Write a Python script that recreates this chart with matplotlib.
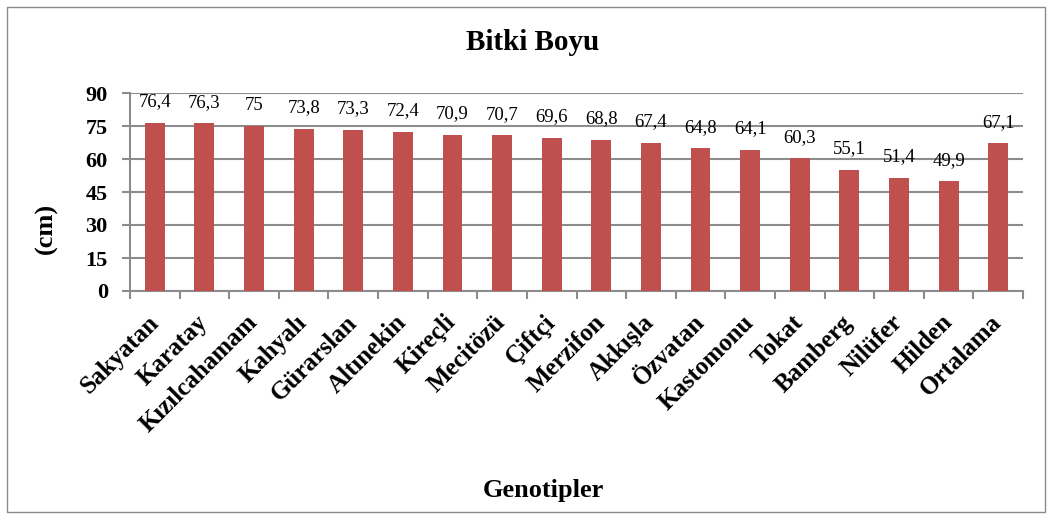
import matplotlib
matplotlib.use("Agg")
import matplotlib.pyplot as plt
from matplotlib.patches import Rectangle
import numpy as np

categories = ["Sakyatan", "Karatay", "Kızılcahamam", "Kahyalı", "Gürarslan", "Altınekin",
              "Kireçli", "Mecitözü", "Çiftçi", "Merzifon", "Akkışla", "Özvatan",
              "Kastomonu", "Tokat", "Bamberg", "Nilüfer", "Hilden", "Ortalama"]
values = [76.4, 76.3, 75, 73.8, 73.3, 72.4, 70.9, 70.7, 69.6, 68.8, 67.4, 64.8,
          64.1, 60.3, 55.1, 51.4, 49.9, 67.1]
yticks = [0, 15, 30, 45, 60, 75, 90]

plt.rcParams['font.family'] = ['Liberation Serif', 'DejaVu Serif']

fig = plt.figure(figsize=(10.52, 5.19), dpi=100)
ax = fig.add_axes([130/1052, 1-291/519, (1023-130)/1052, (291-93)/519])

x = np.arange(len(categories))
ax.bar(x, values, width=0.4, color='#C0504D', zorder=3)
ax.set_xlim(-0.5, len(categories)-0.5)
ax.set_ylim(0, 90)
ax.set_yticks(yticks)
ax.set_yticklabels([str(t) for t in yticks], fontsize=16, fontweight='bold')
ax.yaxis.grid(True, color='#8C8C8C', linewidth=1.5, zorder=0)
ax.tick_params(axis='y', length=6, width=1.5, color='#8C8C8C', pad=10)

ax.set_xticks(np.arange(len(categories)+1)-0.5)
ax.set_xticklabels([])
ax.tick_params(axis='x', which='major', length=6, width=1.5, color='#8C8C8C')
ax.set_xticks(x, minor=True)
ax.set_xticklabels(categories, minor=True, rotation=45, ha='right', va='center',
                   rotation_mode='anchor', fontsize=18, fontweight='bold')
ax.tick_params(axis='x', which='minor', length=0, pad=20)

for s in ['top', 'right']:
    ax.spines[s].set_visible(False)
for s in ['left', 'bottom']:
    ax.spines[s].set_color('#8C8C8C')
    ax.spines[s].set_linewidth(1.5)

for xi, v in zip(x, values):
    ax.annotate(f"{v:g}".replace('.', ','), (xi, v), xytext=(0, 9), textcoords='offset points',
                ha='center', va='bottom', fontsize=13.5, zorder=4)

fig.text(533/1052, 1-43/519, "Bitki Boyu", ha='center', va='center', fontsize=21, fontweight='bold')
fig.text(543/1052, 1-491/519, "Genotipler", ha='center', va='center', fontsize=19, fontweight='bold')
fig.text(46/1052, 1-228/519, "(cm)", ha='center', va='center', rotation=90, fontsize=19, fontweight='bold')

fig.patches.append(Rectangle((7/1052, 7/519), (1045-7)/1052, (512-7)/519, transform=fig.transFigure,
                             fill=False, edgecolor='#8C8C8C', linewidth=1))

fig.savefig("out.png", dpi=100, facecolor='white')
